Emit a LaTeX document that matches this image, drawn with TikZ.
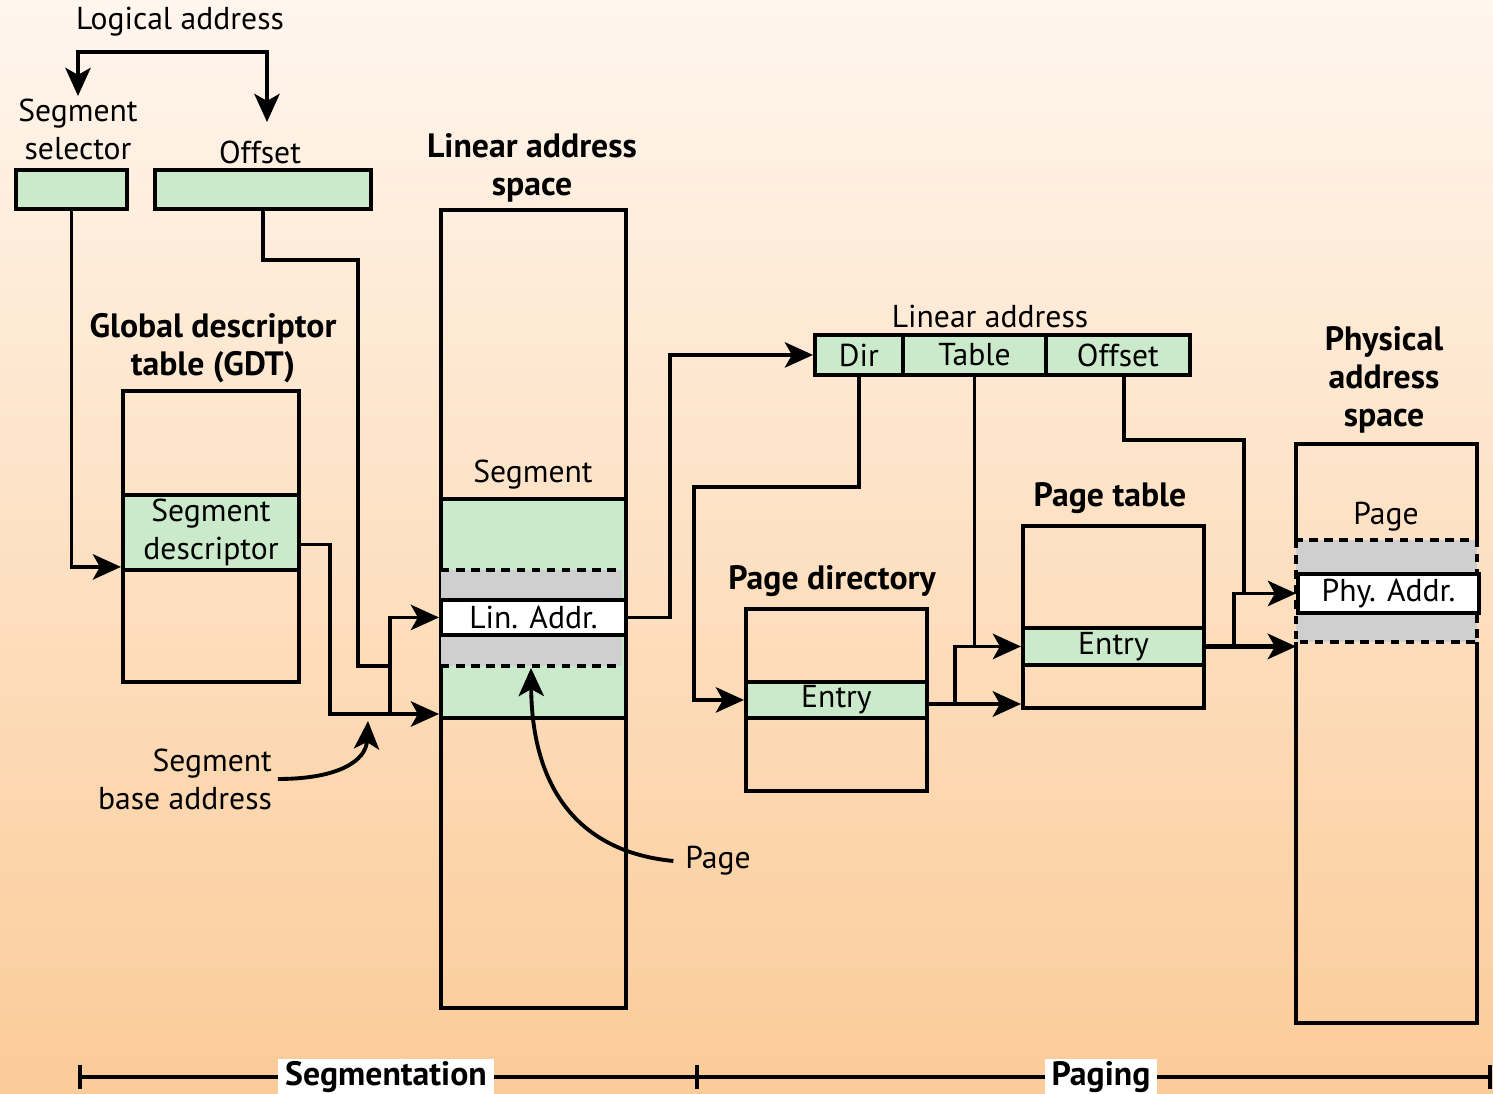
\documentclass[tikz,border=0pt]{standalone}
\usepackage{fontspec}
\setmainfont{PT Sans}
\usetikzlibrary{arrows.meta,positioning,calc}
\definecolor{segGreen}{RGB}{203,234,203}
\definecolor{padGray}{RGB}{207,207,207}
\definecolor{bgTop}{RGB}{255,246,238}
\definecolor{bgBottom}{RGB}{251,203,152}
\begin{document}
\begin{tikzpicture}[x=0.01cm, y=-0.01cm, line width=1.1pt,
    >={Stealth[length=8pt,width=7.2pt,inset=2pt]},
    lbl/.style={font=\fontsize{9.0}{10.8}\selectfont, align=center, inner sep=0pt},
    ttl/.style={font=\fontsize{9.6}{10.8}\selectfont\bfseries, align=center, inner sep=0pt},
    box/.style={draw, inner sep=0pt, anchor=north west, font=\fontsize{9.0}{10.8}\selectfont, align=center},
    fld/.style={box, fill=segGreen},
    heavy/.style={line width=1.4pt},
    brk/.style={dash pattern=on 2.4pt off 1.9pt}]
\shade[top color=bgTop, bottom color=bgBottom] (0,0) rectangle (1493,1094);
\useasboundingbox (0,0) rectangle (1493,1094);

% logical address
\node[lbl] (logAddr) at (180,22) {Logical address};
\node[lbl] (selLabel) at (78,129) {Segment\\selector};
\node[lbl] (offLabel) at (260,152) {Offset};
\node[fld, minimum width=1.11cm, minimum height=0.39cm] (sel) at (14,168) {};
\node[fld, minimum width=2.16cm, minimum height=0.39cm] (off) at (153,168) {};
\coordinate (selIn) at (78,96);
\coordinate (offIn) at (267,122);
\coordinate (logSplit) at (172,52);
\draw[<->] (selIn) |- (logSplit) -| (offIn);

% GDT
\node[ttl] (gdtTitle) at (213,348) {Global descriptor\\table (GDT)};
\node[box, minimum width=1.76cm, minimum height=2.91cm] (gdtBox) at (121,389) {};
\node[fld, minimum width=1.76cm, minimum height=0.75cm] (gdtEntry) at (121,493) {Segment\\descriptor};

% linear address space
\node[ttl] (linTitle) at (532,168) {Linear address\\space};
\node[box, minimum width=1.85cm, minimum height=7.98cm] (linSpace) at (439,208) {};
\node[lbl] (segLabel) at (533,475) {Segment};
\node[fld, minimum width=1.85cm, minimum height=2.19cm] (linSeg) at (439,497) {};
\fill[padGray] (441,570) rectangle (622,666);
\draw[brk] (441,570) -- (622,570);
\draw[brk] (441,666) -- (622,666);
\node[box, fill=white, minimum width=1.85cm, minimum height=0.35cm] (linAddr) at (439,598) {Lin. Addr.};
\coordinate (linPadB) at (531,668);

% segmentation connectors
\coordinate (offBend) at (358,260);
\coordinate (baseJoin) at (390,666);
\coordinate (baseBend) at (330,714);
\coordinate (baseTee) at (390,714);
\draw (off.south) |- (offBend) |- (baseJoin);
\draw[->] (sel.south) |- ([yshift=0.05cm]gdtEntry.south west);
\draw[->] ([yshift=-0.12cm]gdtEntry.east) -| (baseBend) -- (baseBend -| linSeg.west);
\draw[->] (baseTee) |- (linAddr.west);

\node[lbl, align=right] (baseLabel) at (185,779) {Segment\\base address};
\coordinate (baseTip) at (368,721);
\draw[->] ([xshift=0.04cm]baseLabel.east) .. controls (340,779) and (366,760) .. (baseTip);

\node[lbl] (pageLabel) at (718,861) {Page};
\draw[->] ([xshift=-0.1cm]pageLabel.west) .. controls (580,852) and (532,790) .. (linPadB);

% linear address fields
\node[lbl] (linAddrLbl) at (990,316) {Linear address};
\node[fld, minimum width=0.88cm, minimum height=0.40cm] (dir) at (813,333) {Dir};
\node[fld, minimum width=1.43cm, minimum height=0.40cm] (tbl) at (901,333) {Table};
\node[fld, minimum width=1.44cm, minimum height=0.40cm] (lOff) at (1044,333) {Offset};
\draw[->] (linAddr.east) -- ++(0.42cm,0) |- (dir.west);

% page directory
\node[ttl] (pdTitle) at (832,581) {Page directory};
\node[box, minimum width=1.81cm, minimum height=1.82cm] (pdBox) at (744,607) {};
\node[fld, minimum width=1.81cm, minimum height=0.36cm] (pdEntry) at (744,680) {Entry};

% page table
\node[ttl] (ptTitle) at (1110,498) {Page table};
\node[box, minimum width=1.81cm, minimum height=1.82cm] (ptBox) at (1021,524) {};
\node[fld, minimum width=1.81cm, minimum height=0.37cm] (ptEntry) at (1021,626) {Entry};

% physical address space
\node[ttl] (physTitle) at (1384,380) {Physical\\address\\space};
\fill[padGray] (1296,540) rectangle (1477,642);
\draw (1296,540) |- (1477,444) -- (1477,540);
\draw (1296,642) |- (1477,1023) -- (1477,642);
\draw[brk] (1296,540) rectangle (1477,642);
\node[lbl] (physPage) at (1386,517) {Page};
\node[box, fill=white, minimum width=1.81cm, minimum height=0.39cm] (phyAddr) at (1296,572) {Phy. Addr.};

% paging connectors
\coordinate (dirBend) at (694,487);
\coordinate (pdTee) at (955,704);
\coordinate (offTurn) at (1244,440);
\draw[->] (dir.south) |- (dirBend) |- (pdEntry.west);
\draw[->, heavy] (pdEntry.east |- pdTee) -- (pdTee -| ptBox.west);
\draw[->] (pdTee) |- (ptEntry.west);
\draw (tbl.south) -- (tbl.south |- ptEntry.west);
\draw[->, heavy] (ptEntry.east) -- (ptEntry.east -| phyAddr.west);
\draw[->] ([xshift=0.28cm]ptEntry.east) |- (phyAddr.west);
\draw ([xshift=0.06cm]lOff.south) |- (offTurn) -- (offTurn |- phyAddr.west);

% bottom bar
\draw (80,1077) -- (1490,1077);
\foreach \tx in {80,697,1490}
  \draw (\tx,1065) -- (\tx,1089);
\node[ttl, fill=white, inner xsep=2pt, minimum height=0.35cm] (segStage) at (386,1077) {Segmentation};
\node[ttl, fill=white, inner xsep=2pt, minimum height=0.35cm] (pagStage) at (1101,1077) {Paging};
\end{tikzpicture}
\end{document}
